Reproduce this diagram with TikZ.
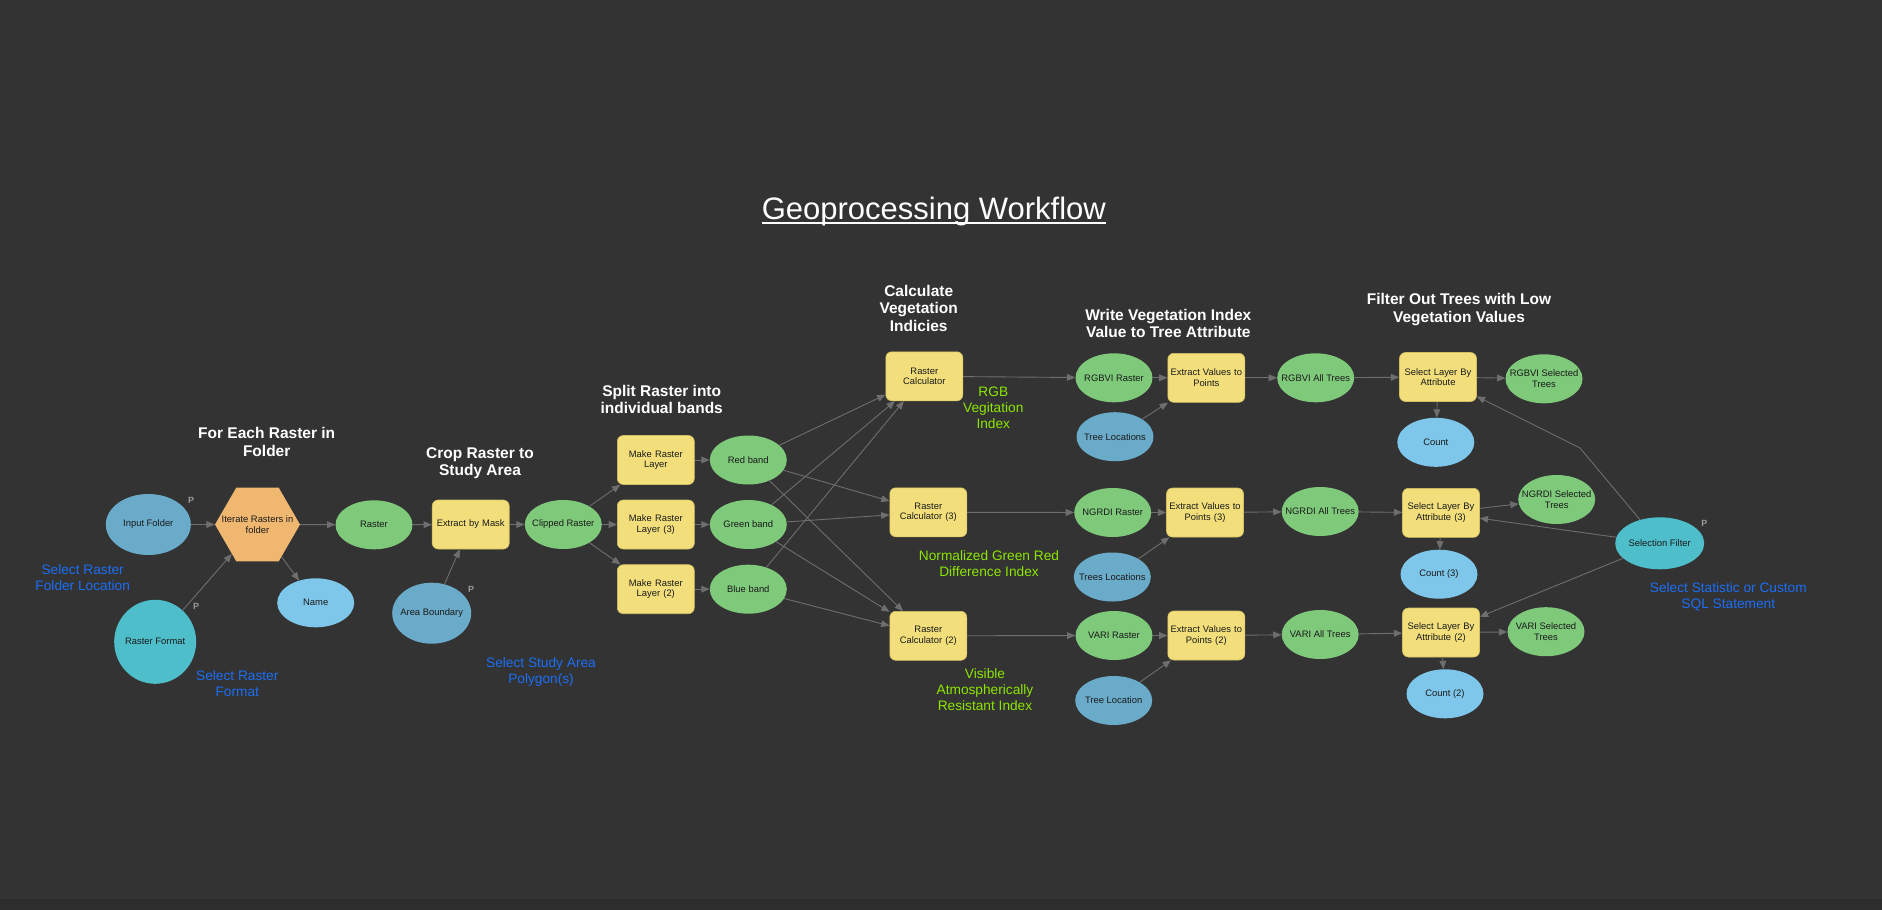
\documentclass[tikz,border=0pt]{standalone}
\usepackage{fontspec}
\setmainfont{Liberation Sans}
\usetikzlibrary{shapes.geometric}
\usetikzlibrary{arrows}

\definecolor{cbg}{HTML}{333333}
\definecolor{cstrip}{HTML}{2D2D2D}
\definecolor{cgreen}{HTML}{7EC97A}
\definecolor{cyellow}{HTML}{F2DF7B}
\definecolor{cyellowd}{HTML}{D2BF62}
\definecolor{cbluegray}{HTML}{6BABCA}
\definecolor{clight}{HTML}{7EC7EB}
\definecolor{ccyan}{HTML}{4EBECA}
\definecolor{corange}{HTML}{F0B770}
\definecolor{cline}{HTML}{6E6E6E}
\definecolor{cnote}{HTML}{1C6EF5}
\definecolor{clime}{HTML}{8CE600}
\definecolor{ctext}{HTML}{1A1A1A}
\definecolor{cptag}{HTML}{9A9A9A}

\tikzset{
  ntxt/.style={text=ctext, font=\fontsize{9.4}{10.5}\selectfont, align=center, inner sep=0pt},
  oval/.style={ellipse, minimum width=77, minimum height=49, inner sep=0pt, label={[ntxt]center:#1}},
  gn/.style={oval=#1, fill=cgreen},
  bn/.style={oval=#1, fill=cbluegray},
  ln/.style={oval=#1, fill=clight},
  cn/.style={oval=#1, fill=ccyan},
  yn/.style={rectangle, rounded corners=6, fill=cyellow, draw=cyellowd, line width=0.6,
    minimum width=77, minimum height=49, text width=74, align=center, inner sep=0pt,
    text=ctext, font=\fontsize{9.4}{10.5}\selectfont},
  hexnode/.style={regular polygon, regular polygon sides=6, minimum size=85, inner sep=0pt,
    fill=corange, label={[ntxt]center:#1}},
  heading/.style={text=white, font=\bfseries\fontsize{15.5}{17.5}\selectfont, align=center, inner sep=0pt},
  bluenote/.style={text=cnote, font=\fontsize{13.7}{16}\selectfont, align=center, inner sep=0pt},
  limenote/.style={text=clime, font=\fontsize{13.7}{16}\selectfont, align=center, inner sep=0pt},
  ptag/.style={text=cptag, font=\bfseries\fontsize{9}{10}\selectfont, inner sep=0pt},
  flow/.style={draw=cline, line width=0.9, -triangle 45}
}

\begin{document}
\begin{tikzpicture}[x=1pt,y=-1pt]
\fill[cbg] (0,0) rectangle (1882,910);
\fill[cstrip] (0,899) rectangle (1882,910);
\useasboundingbox (0,0) rectangle (1882,910);

\node[text=white, font=\fontsize{31}{36}\selectfont, inner sep=0pt, anchor=base] (ttl) at (933.8,219.3) {Geoprocessing Workflow};
\draw[white, line width=2] ([yshift=-3.4pt]ttl.base west) -- ([yshift=-3.4pt]ttl.base east);

\node[heading] (hdfolder) at (266.7,442) {For Each Raster in\\Folder};
\node[heading] (hdcrop) at (480,463) {Crop Raster to\\Study Area};
\node[heading] (hdsplit) at (661.7,399.3) {Split Raster into\\individual bands};
\node[heading] (hdcalc) at (918.7,308) {Calculate\\Vegetation\\Indicies};
\node[heading] (hdwrite) at (1168.3,323.7) {Write Vegetation Index\\Value to Tree Attribute};
\node[heading] (hdfilter) at (1459,309.7) {Filter Out Trees with Low\\Vegetation Values};

\node[bn=Input Folder, minimum width=85, minimum height=61] (infolder) at (148.3,524.5) {};
\node[hexnode={Iterate Rasters in\\folder}] (iter) at (257.5,524.5) {};
\node[gn=Raster] (raster) at (374,524.8) {};
\node[ln=Name] (name) at (315.7,602.8) {};
\node[cn=Raster Format, minimum width=82, minimum height=84] (rformat) at (155.2,641.8) {};
\node[yn] (mask) at (470.7,524.5) {Extract by Mask};
\node[bn=Area Boundary, minimum width=79, minimum height=61] (area) at (431.7,613.2) {};
\node[gn=Clipped Raster] (clipped) at (563.3,524.5) {};

\node[yn] (mrl) at (655.8,460) {Make Raster\\Layer};
\node[yn] (mrl3) at (655.8,524.5) {Make Raster\\Layer (3)};
\node[yn] (mrl2) at (655.8,589.2) {Make Raster\\Layer (2)};
\node[gn=Red band] (red) at (748.3,460) {};
\node[gn=Green band] (green) at (748.3,524.5) {};
\node[gn=Blue band] (blue) at (748.3,589.2) {};

\node[yn] (rc) at (924.3,376.3) {Raster\\Calculator};
\node[yn] (rc3) at (928.3,512.3) {Raster\\Calculator (3)};
\node[yn] (rc2) at (928.3,635.8) {Raster\\Calculator (2)};

\node[gn=RGBVI Raster] (rgbras) at (1114,377.8) {};
\node[bn=Tree Locations] (treeA) at (1115,436.7) {};
\node[yn] (evp) at (1206.3,377.8) {Extract Values to\\Points};
\node[gn=RGBVI All Trees] (rgball) at (1315.7,377.8) {};
\node[yn] (slba) at (1438,377) {Select Layer By\\Attribute};
\node[ln=Count] (count) at (1435.8,442.3) {};
\node[gn={RGBVI Selected\\Trees}] (rgbsel) at (1544,378.8) {};

\node[gn=NGRDI Raster] (ngrras) at (1112.7,512.5) {};
\node[bn=Trees Locations] (treeB) at (1112.3,577) {};
\node[yn] (evp3) at (1205,512.5) {Extract Values to\\Points (3)};
\node[gn=NGRDI All Trees] (ngrall) at (1320.2,511.5) {};
\node[yn] (slba3) at (1441,512.8) {Select Layer By\\Attribute (3)};
\node[ln=Count (3)] (count3) at (1439,574.2) {};
\node[gn={NGRDI Selected\\Trees}] (ngrsel) at (1556.7,499.5) {};

\node[gn=VARI Raster] (varras) at (1114,635.5) {};
\node[bn=Tree Location] (treeC) at (1113.7,700.5) {};
\node[yn] (evp2) at (1206.3,635.5) {Extract Values to\\Points (2)};
\node[gn=VARI All Trees] (varall) at (1320.2,634.5) {};
\node[yn] (slba2) at (1441,632.5) {Select Layer By\\Attribute (2)};
\node[ln=Count (2)] (count2) at (1445,693.8) {};
\node[gn={VARI Selected\\Trees}] (varsel) at (1546,631.7) {};

\node[cn=Selection Filter, minimum width=89, minimum height=52] (selfilter) at (1659.7,543.3) {};
\coordinate (bend) at (1580,448);

\node[ptag] (pfolder) at (191,500) {P};
\node[ptag] (pformat) at (196,606) {P};
\node[ptag] (parea) at (471,589.3) {P};
\node[ptag] (pfilter) at (1704.3,523.3) {P};

\node[bluenote] (nfolder) at (82.7,578) {Select Raster\\Folder Location};
\node[bluenote] (nformat) at (237.3,683.7) {Select Raster\\Format};
\node[bluenote] (narea) at (541,672.3) {Select Study Area\\Polygon(s)};
\node[bluenote] (nsql) at (1728.3,597) {Select Statistic or Custom\\SQL Statement};
\node[limenote] (nrgb) at (993.3,408) {RGB\\Vegitation\\Index};
\node[limenote] (nngrd) at (989,564) {Normalized Green Red\\Difference Index};
\node[limenote] (nvari) at (985,690) {Visible\\Atmospherically\\Resistant Index};

\draw[flow] (infolder) -- (iter);
\draw[flow] (rformat) -- (iter);
\draw[flow] (iter) -- (raster);
\draw[flow] (iter) -- (name);
\draw[flow] (raster) -- (mask);
\draw[flow] (area) -- (mask);
\draw[flow] (mask) -- (clipped);
\foreach \m/\b in {mrl/red,mrl3/green,mrl2/blue} {
  \draw[flow] (clipped) -- (\m);
  \draw[flow] (\m) -- (\b);
}
\foreach \a/\b in {red/rc,red/rc3,red/rc2,green/rc,green/rc3,green/rc2,blue/rc,blue/rc2}
  \draw[flow] (\a) -- (\b);
\draw[flow] (rc) -- (rgbras);
\draw[flow] (rc3) -- (ngrras);
\draw[flow] (rc2) -- (varras);
\foreach \r/\t/\e/\v/\s/\c/\o in {rgbras/treeA/evp/rgball/slba/count/rgbsel,
    ngrras/treeB/evp3/ngrall/slba3/count3/ngrsel,
    varras/treeC/evp2/varall/slba2/count2/varsel} {
  \draw[flow] (\r) -- (\e);
  \draw[flow] (\t) -- (\e);
  \draw[flow] (\e) -- (\v);
  \draw[flow] (\v) -- (\s);
  \draw[flow] (\s) -- (\o);
  \draw[flow] (\s) -- (\c);
}
\draw[flow] (selfilter) -- (bend) -- (slba);
\draw[flow] (selfilter) -- (slba3);
\draw[flow] (selfilter) -- (slba2);
\end{tikzpicture}
\end{document}
